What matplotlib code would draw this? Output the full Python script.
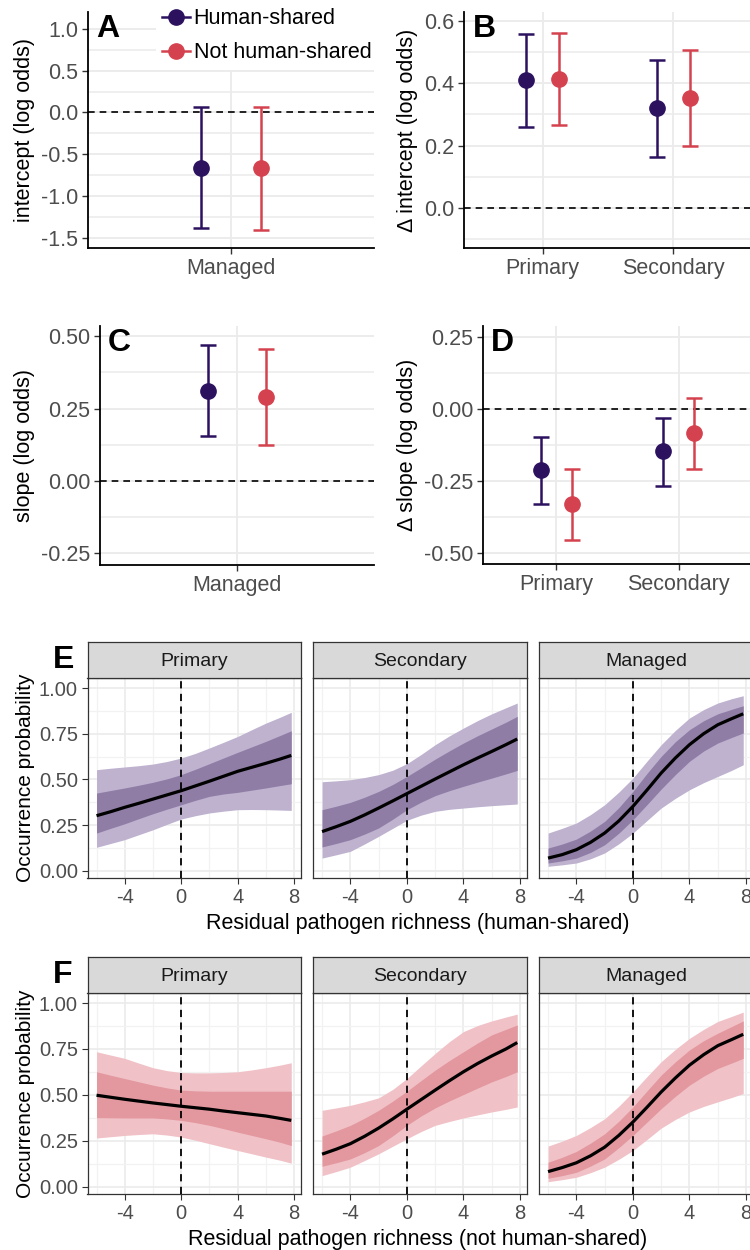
import numpy as np
import matplotlib
matplotlib.use("Agg")
import matplotlib.pyplot as plt
from matplotlib.lines import Line2D
from matplotlib.ticker import FormatStrFormatter

plt.rcParams['font.family'] = ['Liberation Sans', 'DejaVu Sans']
plt.rcParams['axes.unicode_minus'] = False

## Data: coefficient panels (A-D)

purple = "#2C115F"
red = "#D5424F"

a_cats = ["Managed"]
a_human, a_human_lo, a_human_hi = [-0.66], [-1.38], [0.07]
a_not, a_not_lo, a_not_hi = [-0.666], [-1.40], [0.07]

b_cats = ["Primary", "Secondary"]
b_human, b_human_lo, b_human_hi = [0.41, 0.321], [0.26, 0.163], [0.56, 0.477]
b_not, b_not_lo, b_not_hi = [0.414, 0.353], [0.265, 0.197], [0.563, 0.509]

c_cats = ["Managed"]
c_human, c_human_lo, c_human_hi = [0.311], [0.154], [0.471]
c_not, c_not_lo, c_not_hi = [0.289], [0.125], [0.454]

d_cats = ["Primary", "Secondary"]
d_human, d_human_lo, d_human_hi = [-0.211, -0.147], [-0.330, -0.266], [-0.096, -0.032]
d_not, d_not_lo, d_not_hi = [-0.330, -0.084], [-0.455, -0.209], [-0.209, 0.039]

## Data: predicted occurrence (E, F), habitats Primary / Secondary / Managed

habitats = ["Primary", "Secondary", "Managed"]
richness = [-6, -5, -4, -3, -2, -1, 0, 1, 2, 3, 4, 5, 6, 7, 7.8]

e_fit = [[.301, .323, .347, .369, .392, .415, .438, .464, .490, .517, .544, .566, .588, .611, .631],
         [.214, .241, .270, .305, .343, .382, .422, .462, .502, .541, .580, .617, .653, .690, .721],
         [.069, .088, .115, .155, .206, .272, .352, .442, .535, .617, .690, .750, .799, .833, .859]]
e_in_lo = [[.206, .232, .257, .285, .312, .337, .361, .385, .407, .420, .429, .441, .453, .466, .476],
           [.130, .149, .170, .200, .234, .282, .334, .375, .411, .438, .462, .485, .507, .530, .549],
           [.042, .054, .069, .100, .142, .205, .279, .362, .447, .526, .599, .655, .699, .730, .754]]
e_in_hi = [[.425, .439, .453, .468, .484, .503, .526, .555, .586, .617, .648, .678, .708, .740, .766],
           [.334, .353, .374, .402, .434, .472, .516, .563, .611, .656, .699, .739, .776, .813, .845],
           [.124, .146, .173, .217, .270, .345, .434, .533, .626, .706, .772, .821, .859, .884, .903]]
e_out_lo = [[.128, .149, .170, .197, .224, .254, .283, .301, .316, .326, .334, .335, .334, .332, .330],
            [.069, .087, .106, .146, .188, .232, .276, .304, .325, .336, .343, .350, .356, .361, .365],
            [.024, .032, .042, .065, .097, .147, .206, .275, .343, .396, .443, .482, .516, .550, .580]]
e_out_hi = [[.553, .561, .568, .575, .584, .598, .617, .642, .672, .703, .735, .772, .808, .840, .867],
            [.487, .492, .498, .510, .526, .550, .586, .636, .690, .738, .781, .822, .859, .892, .918],
            [.206, .232, .261, .307, .361, .430, .507, .600, .690, .768, .836, .882, .918, .942, .958]]

f_fit = [[.498, .487, .476, .466, .456, .447, .438, .430, .422, .412, .403, .394, .385, .372, .361],
         [.177, .204, .234, .274, .319, .369, .422, .474, .526, .577, .626, .671, .712, .750, .785],
         [.082, .104, .130, .168, .215, .279, .352, .433, .516, .592, .662, .719, .768, .802, .830]]
f_in_lo = [[.376, .375, .374, .374, .374, .369, .361, .349, .334, .316, .297, .279, .261, .242, .224],
           [.111, .130, .151, .185, .224, .277, .334, .385, .429, .467, .502, .537, .571, .600, .626],
           [.046, .060, .078, .112, .151, .212, .279, .352, .425, .492, .553, .602, .644, .674, .699]]
f_in_hi = [[.626, .607, .589, .571, .553, .538, .526, .522, .520, .520, .520, .520, .520, .520, .520],
           [.276, .304, .334, .373, .416, .466, .520, .578, .635, .687, .735, .783, .827, .857, .881],
           [.133, .160, .192, .237, .288, .356, .434, .522, .608, .680, .745, .795, .836, .873, .903]]
f_out_lo = [[.265, .272, .279, .284, .288, .281, .270, .253, .234, .215, .197, .179, .161, .144, .128],
            [.060, .082, .106, .142, .179, .220, .261, .300, .334, .355, .374, .391, .407, .421, .434],
            [.027, .038, .051, .076, .106, .149, .197, .257, .319, .366, .407, .437, .462, .486, .507]]
f_out_hi = [[.735, .717, .699, .673, .648, .632, .622, .620, .620, .622, .626, .636, .648, .662, .675],
            [.416, .429, .443, .462, .484, .530, .589, .658, .726, .790, .845, .878, .903, .924, .940],
            [.221, .248, .279, .322, .370, .438, .516, .600, .681, .748, .808, .857, .900, .928, .951]]

fig = plt.figure(figsize=(7.5, 12.5), dpi=100)
W, H = 750.0, 1250.0


def px_rect(left, top, right, bottom):
    return [left / W, 1 - bottom / H, (right - left) / W, (bottom - top) / H]


def point_panel(rect, cats, series, ylim, yticks, yminor, fmt, ylabel, letter):
    ax = fig.add_axes(rect)
    x = np.arange(1, len(cats) + 1)
    for offset, (vals, lo, hi, color) in zip([-0.125, 0.125], series):
        vals, lo, hi = np.array(vals), np.array(lo), np.array(hi)
        ax.errorbar(x + offset, vals, yerr=[vals - lo, hi - vals], fmt='o', color=color,
                    ms=11, lw=1.8, capsize=6, capthick=1.8, zorder=3)
    ax.axhline(0, color='black', ls=(0, (4, 3)), lw=1.2, zorder=2)
    ax.set_xlim(0.4, len(cats) + 0.6)
    ax.set_ylim(*ylim)
    ax.set_xticks(x)
    ax.set_xticklabels(cats)
    ax.set_yticks(yticks)
    ax.set_yticks(yminor, minor=True)
    ax.yaxis.set_major_formatter(FormatStrFormatter(fmt))
    ax.grid(which='major', color='#EBEBEB', lw=1.3)
    ax.grid(which='minor', axis='y', color='#EBEBEB', lw=1.1)
    ax.set_axisbelow(True)
    for s in ['top', 'right']:
        ax.spines[s].set_visible(False)
    for s in ['left', 'bottom']:
        ax.spines[s].set_linewidth(1.3)
    ax.tick_params(which='major', labelsize=15.5, labelcolor='#4D4D4D', length=4, width=1.0,
                   color='#333333', pad=3)
    ax.tick_params(which='minor', length=0)
    ax.set_ylabel(ylabel, fontsize=15.5, labelpad=4)
    ax.text(0.03, 0.99, letter, transform=ax.transAxes, fontsize=23, fontweight='bold', va='top', ha='left')
    return ax


ax_a = point_panel(px_rect(88, 12, 374, 248), a_cats,
                   [(a_human, a_human_lo, a_human_hi, purple), (a_not, a_not_lo, a_not_hi, red)],
                   (-1.62, 1.2), [-1.5, -1.0, -0.5, 0.0, 0.5, 1.0], [-1.25, -0.75, -0.25, 0.25, 0.75],
                   '%.1f', 'intercept (log odds)', 'A')
handles = [Line2D([0], [0], color=purple, marker='o', ms=11, lw=1.8),
           Line2D([0], [0], color=red, marker='o', ms=11, lw=1.8)]
ax_a.legend(handles, ["Human-shared", "Not human-shared"], loc='upper left',
            bbox_to_anchor=(156 / W, 1 - 2 / H), bbox_transform=fig.transFigure, fontsize=15.5,
            frameon=True, facecolor='white', edgecolor='none', framealpha=1, fancybox=False,
            handlelength=1.3, handletextpad=0.15, labelspacing=0.6, borderpad=0.3, borderaxespad=0)

point_panel(px_rect(464, 12, 752, 248), b_cats,
            [(b_human, b_human_lo, b_human_hi, purple), (b_not, b_not_lo, b_not_hi, red)],
            (-0.13, 0.63), [0.0, 0.2, 0.4, 0.6], [-0.1, 0.1, 0.3, 0.5],
            '%.1f', '\u0394 intercept (log odds)', 'B')

point_panel(px_rect(100, 326, 374, 565), c_cats,
            [(c_human, c_human_lo, c_human_hi, purple), (c_not, c_not_lo, c_not_hi, red)],
            (-0.29, 0.535), [-0.25, 0.0, 0.25, 0.5], [-0.125, 0.125, 0.375],
            '%.2f', 'slope (log odds)', 'C')

point_panel(px_rect(483, 326, 752, 564), d_cats,
            [(d_human, d_human_lo, d_human_hi, purple), (d_not, d_not_lo, d_not_hi, red)],
            (-0.538, 0.288), [-0.5, -0.25, 0.0, 0.25], [-0.375, -0.125, 0.125],
            '%.2f', '\u0394 slope (log odds)', 'D')

## Predicted occurrence panels

panel_x = [(87.5, 301), (313, 527), (539, 753)]


def band_panel(rect, strip_rect, title, fit, in_lo, in_hi, out_lo, out_hi, c_out, c_in, show_y):
    ax = fig.add_axes(rect)
    ax.fill_between(richness, out_lo, out_hi, color=c_out, lw=0, zorder=2)
    ax.fill_between(richness, in_lo, in_hi, color=c_in, lw=0, zorder=2)
    ax.plot(richness, fit, color='black', lw=2.3, zorder=3, solid_capstyle='butt')
    ax.axvline(0, color='black', ls=(0, (4, 3)), lw=1.3, zorder=4)
    ax.set_xlim(-6.64, 8.49)
    ax.set_ylim(-0.04, 1.055)
    ax.set_xticks([-4, 0, 4, 8])
    ax.set_xticks([-6, -2, 2, 6], minor=True)
    ax.set_yticks([0, 0.25, 0.5, 0.75, 1.0])
    ax.set_yticks([0.125, 0.375, 0.625, 0.875], minor=True)
    ax.yaxis.set_major_formatter(FormatStrFormatter('%.2f'))
    ax.grid(which='major', color='#EBEBEB', lw=1.2)
    ax.grid(which='minor', color='#F2F2F2', lw=0.9)
    ax.set_axisbelow(True)
    for s in ax.spines.values():
        s.set_color('#333333')
        s.set_linewidth(0.9)
    ax.tick_params(which='major', labelsize=14.5, labelcolor='#4D4D4D', length=4, color='#333333', pad=3)
    ax.tick_params(which='minor', length=0)
    if not show_y:
        ax.tick_params(axis='y', labelleft=False, left=False)
    sax = fig.add_axes(strip_rect)
    sax.set_facecolor('#D9D9D9')
    sax.set_xticks([])
    sax.set_yticks([])
    for s in sax.spines.values():
        s.set_color('#333333')
        s.set_linewidth(0.9)
    sax.text(0.5, 0.45, title, ha='center', va='center', fontsize=14, color='#1A1A1A', transform=sax.transAxes)
    return ax


for row, (top_s, top_p, bottom_p) in enumerate([(642, 678, 878), (957, 993, 1194)]):
    if row == 0:
        sets = (e_fit, e_in_lo, e_in_hi, e_out_lo, e_out_hi)
        c_out, c_in = "#BEB2CF", "#8F7DA6"
        xlabel = "Residual pathogen richness (human-shared)"
        letter = "E"
    else:
        sets = (f_fit, f_in_lo, f_in_hi, f_out_lo, f_out_hi)
        c_out, c_in = "#F0C2C7", "#E3979E"
        xlabel = "Residual pathogen richness (not human-shared)"
        letter = "F"
    for i, hab in enumerate(habitats):
        left, right = panel_x[i]
        ax = band_panel(px_rect(left, top_p, right, bottom_p), px_rect(left, top_s, right, top_p), hab,
                        sets[0][i], sets[1][i], sets[2][i], sets[3][i], sets[4][i], c_out, c_in, i == 0)
        if i == 0:
            ax.set_ylabel("Occurrence probability", fontsize=15, labelpad=3)
    fig.text(418 / W, 1 - (bottom_p + 45) / H, xlabel, ha='center', va='center', fontsize=15.5)
    fig.text(53 / W, 1 - (top_s + 18) / H, letter, ha='left', va='center', fontsize=23, fontweight='bold')

fig.savefig("out.png", dpi=100)
